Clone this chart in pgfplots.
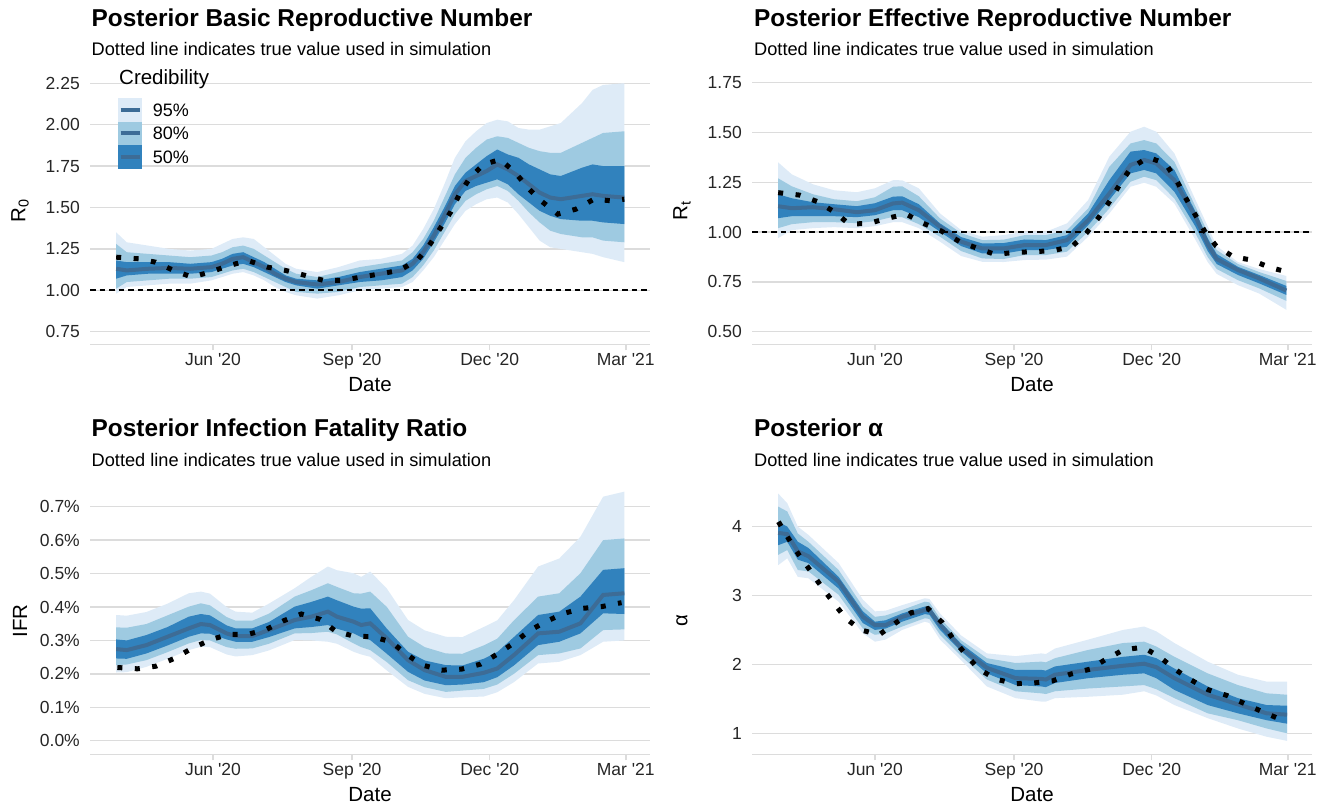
\documentclass[border=0pt]{standalone}
\usepackage{fontspec}
\setmainfont{Liberation Sans}[Ligatures=TeXOff]
\usepackage{pgfplots}
\usepackage{pgfplotstable}
\pgfplotsset{compat=1.18}
\usepgfplotslibrary{fillbetween}

\definecolor{c95}{HTML}{DEEBF7}
\definecolor{c80}{HTML}{9ECAE1}
\definecolor{c50}{HTML}{3182BD}
\definecolor{medc}{HTML}{3D6C96}
\definecolor{gridc}{HTML}{DCDCDC}

\newcommand{\fs}[1]{\fontsize{#1}{#1}\selectfont}

% days since 1 Mar 2020: lower/upper 95, 80, 50 and median
\pgfplotstableread{
d l95 l80 l50 m u50 u80 u95
28 0.98 1.01 1.07 1.13 1.18 1.28 1.35
35 1.02 1.05 1.09 1.12 1.17 1.23 1.29
49 1.03 1.06 1.10 1.13 1.17 1.22 1.27
63 1.04 1.07 1.10 1.135 1.17 1.21 1.25
77 1.04 1.07 1.10 1.13 1.16 1.20 1.24
91 1.06 1.08 1.11 1.14 1.17 1.21 1.25
98 1.08 1.10 1.13 1.16 1.19 1.23 1.28
105 1.10 1.12 1.15 1.19 1.22 1.26 1.31
112 1.11 1.13 1.16 1.20 1.23 1.27 1.32
119 1.09 1.11 1.14 1.17 1.20 1.25 1.31
126 1.06 1.08 1.11 1.14 1.17 1.21 1.26
133 1.02 1.05 1.08 1.10 1.13 1.17 1.21
140 0.99 1.02 1.05 1.07 1.09 1.13 1.16
147 0.97 0.99 1.03 1.05 1.07 1.10 1.13
161 0.95 0.98 1.01 1.035 1.06 1.08 1.11
175 0.97 0.99 1.03 1.05 1.08 1.11 1.14
189 1.00 1.02 1.05 1.08 1.11 1.14 1.18
203 1.01 1.03 1.06 1.10 1.13 1.16 1.19
217 1.02 1.04 1.08 1.12 1.15 1.18 1.22
224 1.05 1.08 1.12 1.16 1.19 1.23 1.27
231 1.12 1.15 1.19 1.23 1.27 1.31 1.37
238 1.20 1.24 1.29 1.33 1.38 1.42 1.49
245 1.30 1.35 1.40 1.45 1.50 1.56 1.64
252 1.40 1.46 1.52 1.58 1.63 1.70 1.80
259 1.48 1.54 1.60 1.66 1.71 1.80 1.90
266 1.52 1.58 1.63 1.69 1.76 1.86 1.96
273 1.55 1.61 1.65 1.72 1.81 1.91 2.01
280 1.56 1.63 1.67 1.76 1.85 1.93 2.03
287 1.53 1.60 1.64 1.73 1.82 1.92 2.02
294 1.46 1.54 1.58 1.69 1.80 1.89 1.98
301 1.38 1.47 1.53 1.64 1.76 1.86 1.97
308 1.30 1.41 1.48 1.59 1.73 1.84 1.97
315 1.26 1.36 1.45 1.56 1.70 1.83 1.99
322 1.25 1.34 1.43 1.55 1.69 1.83 2.01
336 1.23 1.32 1.42 1.57 1.74 1.89 2.13
343 1.22 1.32 1.42 1.58 1.76 1.92 2.21
350 1.20 1.30 1.41 1.57 1.75 1.95 2.24
364 1.17 1.29 1.40 1.56 1.75 1.96 2.25
}\tabR

\pgfplotstableread{
d v
28 1.20
43 1.19
54 1.17
66 1.12
78 1.08
90 1.11
103 1.15
115 1.18
128 1.14
140 1.12
153 1.09
165 1.06
177 1.06
190 1.08
203 1.10
215 1.12
227 1.18
235 1.27
242 1.37
249 1.47
255 1.58
262 1.68
271 1.76
282 1.79
292 1.71
300 1.62
309 1.54
320 1.46
332 1.49
344 1.55
356 1.54
364 1.55
}\trueR

\pgfplotstableread{
d l95 l80 l50 m u50 u80 u95
28 0.97 1.02 1.07 1.13 1.19 1.27 1.35
37 1.01 1.04 1.08 1.12 1.17 1.23 1.29
51 1.02 1.05 1.08 1.125 1.15 1.19 1.24
65 1.025 1.05 1.08 1.115 1.14 1.165 1.21
80 1.02 1.045 1.075 1.10 1.13 1.155 1.20
92 1.03 1.055 1.085 1.11 1.145 1.175 1.22
104 1.05 1.077 1.11 1.144 1.178 1.228 1.261
110 1.05 1.075 1.11 1.148 1.18 1.23 1.26
121 1.02 1.04 1.075 1.11 1.14 1.18 1.22
135 0.952 0.977 1.002 1.027 1.044 1.069 1.094
149 0.88 0.905 0.93 0.952 0.975 0.995 1.01
163 0.851 0.868 0.893 0.918 0.943 0.96 0.977
177 0.85 0.865 0.892 0.918 0.945 0.962 0.985
191 0.86 0.885 0.91 0.935 0.963 0.985 1.002
205 0.862 0.885 0.91 0.935 0.96 0.985 1.002
219 0.877 0.902 0.927 0.96 0.985 1.01 1.044
233 0.977 1.002 1.035 1.06 1.094 1.119 1.161
247 1.094 1.119 1.161 1.194 1.261 1.328 1.379
261 1.228 1.253 1.295 1.337 1.404 1.445 1.504
270 1.248 1.278 1.312 1.362 1.412 1.462 1.529
278 1.228 1.261 1.295 1.345 1.395 1.445 1.504
290 1.144 1.169 1.203 1.261 1.312 1.353 1.395
304 0.96 0.993 1.027 1.077 1.102 1.127 1.161
312 0.85 0.875 0.905 0.94 0.97 1.0 1.03
318 0.79 0.815 0.84 0.865 0.89 0.91 0.93
332 0.734 0.759 0.785 0.81 0.826 0.84 0.85
346 0.692 0.718 0.743 0.768 0.785 0.80 0.815
364 0.61 0.655 0.685 0.707 0.73 0.755 0.78
}\tabRt

\pgfplotstableread{
d v
28 1.198
42 1.186
54 1.153
65 1.102
75 1.04
88 1.044
100 1.069
112.5 1.091
124 1.044
136 1.005
148 0.952
160 0.918
171.5 0.888
184 0.898
197 0.902
210 0.907
222.6 0.93
232 0.997
240 1.074
247 1.153
254 1.24
261 1.32
272.6 1.375
284 1.345
291 1.266
297 1.178
303.5 1.091
310 1.005
317.6 0.93
329 0.876
341 0.86
353 0.823
364.5 0.80
}\trueRt

\pgfplotstableread{
d l95 l80 l50 m u50 u80 u95
28 .204 .226 .246 .274 .303 .339 .376
35 .205 .228 .245 .271 .300 .338 .374
48 .221 .241 .261 .286 .316 .349 .385
62 .245 .265 .285 .311 .340 .375 .41
76 .271 .291 .311 .336 .371 .401 .441
84 .281 .301 .321 .349 .379 .411 .446
90 .28 .30 .32 .346 .375 .405 .44
101 .258 .28 .303 .321 .345 .37 .40
107 .252 .275 .296 .313 .336 .359 .386
118 .256 .276 .296 .313 .336 .359 .383
129 .27 .29 .31 .331 .355 .38 .41
146 .301 .321 .336 .361 .401 .431 .456
157 .30 .322 .34 .371 .415 .45 .49
168 .296 .326 .346 .386 .431 .471 .521
174 .29 .318 .335 .371 .42 .46 .51
185 .266 .291 .321 .356 .401 .441 .501
190 .258 .28 .31 .346 .395 .44 .49
196 .251 .271 .301 .351 .396 .446 .506
207 .21 .235 .26 .306 .335 .40 .455
221 .161 .181 .206 .241 .266 .311 .361
232 .14 .16 .18 .211 .24 .28 .33
246 .127 .146 .166 .191 .226 .261 .311
257 .13 .15 .168 .191 .225 .26 .31
271 .132 .155 .175 .203 .245 .285 .34
280 .145 .168 .19 .216 .265 .305 .36
291 .175 .20 .225 .256 .31 .36 .42
307 .231 .256 .286 .321 .376 .431 .521
321 .236 .261 .296 .326 .386 .441 .545
335 .256 .276 .321 .351 .431 .501 .61
350 .296 .331 .381 .436 .511 .60 .73
364 .30 .333 .379 .441 .516 .605 .745
}\tabIFR

\pgfplotstableread{
d v
28.8 .219
42.1 .215
54.4 .223
66.4 .246
78 .276
90 .301
102 .318
115 .318
127.4 .333
138.8 .359
150.5 .379
163 .363
173 .328
184.8 .313
197.3 .311
209.8 .296
220 .258
230.7 .226
243.3 .211
256.3 .214
268.9 .229
280 .259
290.6 .291
300.9 .328
312 .356
324 .381
336.6 .396
349 .401
362.2 .413
}\trueIFR

\pgfplotstableread{
d l95 l80 l50 m u50 u80 u95
28 3.44 3.59 3.73 3.91 4.07 4.29 4.48
34 3.54 3.66 3.78 3.89 4.00 4.22 4.34
41 3.27 3.37 3.52 3.64 3.78 3.90 4.00
48 3.25 3.35 3.47 3.57 3.69 3.78 3.88
68 2.91 3.01 3.10 3.20 3.27 3.37 3.47
84 2.45 2.52 2.60 2.69 2.77 2.84 2.94
92 2.33 2.43 2.50 2.57 2.62 2.69 2.77
99 2.36 2.45 2.52 2.57 2.64 2.71 2.78
110 2.50 2.55 2.62 2.69 2.74 2.79 2.86
125 2.62 2.67 2.73 2.79 2.84 2.91 2.96
128 2.60 2.66 2.72 2.79 2.84 2.90 2.95
135 2.36 2.43 2.50 2.58 2.62 2.67 2.74
149 2.06 2.12 2.19 2.24 2.30 2.35 2.42
166 1.68 1.78 1.87 1.95 2.02 2.09 2.16
185 1.51 1.61 1.70 1.80 1.92 2.02 2.12
202 1.46 1.58 1.68 1.79 1.92 2.04 2.16
205 1.46 1.57 1.67 1.78 1.91 2.03 2.15
211 1.51 1.61 1.73 1.85 1.97 2.09 2.23
233 1.53 1.65 1.80 1.92 2.04 2.21 2.36
256 1.56 1.68 1.85 1.98 2.11 2.31 2.50
270 1.61 1.70 1.87 2.01 2.14 2.33 2.55
278 1.55 1.64 1.80 1.96 2.09 2.26 2.48
290 1.41 1.51 1.63 1.80 1.94 2.11 2.31
312 1.22 1.29 1.41 1.56 1.68 1.87 2.04
332 1.07 1.19 1.29 1.42 1.51 1.70 1.85
351 0.95 1.07 1.19 1.29 1.41 1.58 1.75
364.5 0.89 1.00 1.14 1.27 1.40 1.56 1.75
}\tabA

\pgfplotstableread{
d v
28.2 4.07
34.7 3.83
41.7 3.59
49.3 3.36
56.9 3.12
64.8 2.89
72.6 2.67
82.7 2.50
94.8 2.43
104.9 2.59
115.9 2.75
127.1 2.81
136.4 2.61
144 2.36
151.8 2.15
160.3 1.94
171.5 1.79
184.1 1.72
196.8 1.73
209.4 1.76
221.5 1.86
234.1 1.93
245.1 2.08
256.3 2.21
269.2 2.25
280.2 2.11
290.3 1.93
301.3 1.77
312.5 1.63
324.6 1.55
336.4 1.43
348.5 1.31
360.3 1.20
}\trueA

\newcommand{\bands}[1]{%
  \addplot[name path=U95,draw=none] table[x=d,y=u95]{#1};
  \addplot[name path=L95,draw=none] table[x=d,y=l95]{#1};
  \addplot[name path=U80,draw=none] table[x=d,y=u80]{#1};
  \addplot[name path=L80,draw=none] table[x=d,y=l80]{#1};
  \addplot[name path=U50,draw=none] table[x=d,y=u50]{#1};
  \addplot[name path=L50,draw=none] table[x=d,y=l50]{#1};
  \addplot[fill=c95,draw=none] fill between[of=U95 and L95];
  \addplot[fill=c80,draw=none] fill between[of=U80 and L80];
  \addplot[fill=c50,draw=none] fill between[of=U50 and L50];
  \addplot[medc,line width=4pt] table[x=d,y=m]{#1};
}
\newcommand{\truth}[1]{%
  \addplot[black,line width=5pt,dash pattern=on 5pt off 12.5pt] table[x=d,y=v]{#1};
}
\newcommand{\unity}{%
  \addplot[black,line width=1.8pt,dash pattern=on 5.5pt off 4pt] coordinates {(10.7,1)(381,1)};
}

\pgfplotsset{
  panel/.style={
    scale only axis, width=560pt, height=266pt, anchor=south west,
    xmin=10.7, xmax=381,
    axis x line*=bottom, axis y line*=left,
    axis line style={-},
    x axis line style={draw=gridc, line width=1.5pt},
    y axis line style={draw=none},
    xtick={92,184,275,365},
    xticklabels={Jun '20, Sep '20, Dec '20, Mar '21},
    tick align=outside, major tick length=6pt,
    xtick style={draw=gridc, line width=1.5pt},
    ytick style={draw=none},
    ymajorgrids, grid style={draw=gridc, line width=1.4pt},
    ticklabel style={font=\fs{17.5}, text=black!85},
    xticklabel style={inner sep=0pt, yshift=-3pt},
    yticklabel style={inner sep=0pt, xshift=-4pt},
  },
}

\begin{document}
\begin{tikzpicture}

% ---- R0 ----
\begin{axis}[panel, at={(90pt,-344.3pt)}, ymin=0.674, ymax=2.280,
  ytick={0.75,1,1.25,1.5,1.75,2,2.25},
  yticklabels={0.75,1.00,1.25,1.50,1.75,2.00,2.25}]
  \bands{\tabR}
  \unity
  \truth{\trueR}
\end{axis}

% ---- Rt ----
\begin{axis}[panel, at={(752pt,-344.3pt)}, ymin=0.437, ymax=1.772,
  ytick={0.5,0.75,1,1.25,1.5,1.75},
  yticklabels={0.50,0.75,1.00,1.25,1.50,1.75}]
  \bands{\tabRt}
  \unity
  \truth{\trueRt}
\end{axis}

% ---- IFR ----
\begin{axis}[panel, at={(90pt,-754.3pt)}, ymin=-0.0407, ymax=0.755,
  ytick={0,0.1,0.2,0.3,0.4,0.5,0.6,0.7},
  yticklabels={0.0\%,0.1\%,0.2\%,0.3\%,0.4\%,0.5\%,0.6\%,0.7\%}]
  \bands{\tabIFR}
  \truth{\trueIFR}
\end{axis}

% ---- alpha ----
\begin{axis}[panel, at={(752pt,-754.3pt)}, ymin=0.695, ymax=4.556,
  ytick={1,2,3,4}, yticklabels={1,2,3,4}]
  \bands{\tabA}
  \truth{\trueA}
\end{axis}

% titles
\begin{scope}[every node/.style={anchor=base west, inner sep=0pt}]
\node[font=\fs{24.4}\bfseries] at (91.5pt,-26.7pt) {Posterior Basic Reproductive Number};
\node[font=\fs{18.2}] at (91.5pt,-56pt) {Dotted line indicates true value used in simulation};
\node[font=\fs{24.4}\bfseries] at (754pt,-26.7pt) {Posterior Effective Reproductive Number};
\node[font=\fs{18.2}] at (754pt,-56pt) {Dotted line indicates true value used in simulation};
\node[font=\fs{24.4}\bfseries] at (91.5pt,-436.7pt) {Posterior Infection Fatality Ratio};
\node[font=\fs{18.2}] at (91.5pt,-466pt) {Dotted line indicates true value used in simulation};
\node[font=\fs{24.4}\bfseries] at (754pt,-436.7pt) {Posterior α};
\node[font=\fs{18.2}] at (754pt,-466pt) {Dotted line indicates true value used in simulation};
\end{scope}

% axis titles
\begin{scope}[every node/.style={font=\fs{20.5}, inner sep=0pt}]
\node[anchor=base] at (370pt,-391pt) {Date};
\node[anchor=base] at (1032pt,-391pt) {Date};
\node[anchor=base] at (370pt,-801pt) {Date};
\node[anchor=base] at (1032pt,-801pt) {Date};
\node[rotate=90] at (20pt,-211pt) {R\textsubscript{0}};
\node[rotate=90] at (682pt,-211pt) {R\textsubscript{t}};
\node[rotate=90] at (20pt,-621pt) {IFR};
\node[rotate=90] at (682pt,-621pt) {α};
\end{scope}

% legend
\node[anchor=base west, inner sep=0pt, font=\fs{20.5}] at (119pt,-85pt) {Credibility};
\fill[c95] (117.7pt,-98pt) rectangle (142pt,-121.7pt);
\fill[c80] (117.7pt,-121.7pt) rectangle (142pt,-145pt);
\fill[c50] (117.7pt,-145pt) rectangle (142pt,-169pt);
\foreach \yy in {110,133.3,156.7} \draw[medc, line width=4pt] (120.7pt,-\yy pt) -- (140pt,-\yy pt);
\begin{scope}[every node/.style={anchor=base west, inner sep=0pt, font=\fs{18}}]
\node at (152.7pt,-116.7pt) {95\%};
\node at (152.7pt,-140pt) {80\%};
\node at (152.7pt,-163.5pt) {50\%};
\end{scope}

\pgfresetboundingbox
\path[use as bounding box] (0pt,0pt) rectangle (1330pt,-805pt);
\end{tikzpicture}
\end{document}
